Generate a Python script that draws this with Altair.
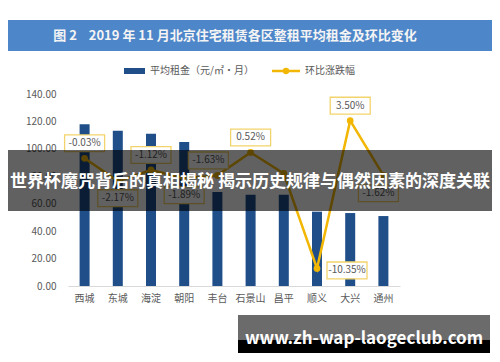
import altair as alt
import pandas as pd

districts = ["西城", "东城", "海淀", "朝阳", "丰台", "石景山", "昌平", "顺义", "大兴", "通州"]
rent = [118.0, 113.2, 111.0, 105.0, 68.5, 66.5, 66.5, 54.2, 53.2, 51.0]
change = [-0.03, -2.17, -1.12, -1.89, -1.63, 0.52, -1.45, -10.35, 3.50, -1.62]
label_pos = ["above", "below", "above", "below", "above-left", "above", "none", "right", "above", "below-left"]

title_text = "图 2\u00a0\u00a0\u00a0\u00a02019 年 11 月北京住宅租赁各区整租平均租金及环比变化"
legend_bar = "平均租金（元/㎡·月）"
legend_line = "环比涨跌幅"
banner_text = "世界杯魔咒背后的真相揭秘 揭示历史规律与偶然因素的深度关联"
watermark_text = "www.zh-wap-laogeclub.com"

OFFSETS = {
    "above": (0, -15),
    "below": (0, 17),
    "above-left": (-9, -15),
    "right": (30, 2),
    "below-left": (-5, 18),
}

df = pd.DataFrame({"district": districts, "rent": rent, "change": change, "pos": label_pos})
df["label"] = [f"{v:.2f}%" for v in change]

FONT = "Noto Sans CJK SC"
BAR = "#1f4e89"
GOLD = "#f2b705"
GRAY = "#595959"
BOXSTROKE = "#f3d36b"

x = alt.X(
    "district:N",
    sort=districts,
    scale=alt.Scale(paddingInner=0, paddingOuter=0),
    axis=alt.Axis(title=None, labelAngle=0, ticks=False, domainColor="#d9d9d9",
                  labelPadding=7, labelFontSize=10, labelColor=GRAY, labelFont=FONT),
)

y_left = alt.Y(
    "rent:Q",
    scale=alt.Scale(domain=[0, 140]),
    axis=alt.Axis(values=list(range(0, 141, 20)), format=".2f", title=None, grid=False,
                  domain=False, ticks=False, labelPadding=12, labelFontSize=10,
                  labelColor=GRAY, labelFont=FONT),
)

rscale = alt.Scale(domain=[-12, 6])
y_right = alt.Y(
    "change:Q",
    scale=rscale,
    axis=alt.Axis(orient="right", values=list(range(-12, 7, 2)),
                  labelExpr="format(datum.value,'.2f')+'%'", title=None, grid=False,
                  domain=False, ticks=False, labelPadding=10, labelFontSize=10,
                  labelColor=GRAY, labelFont=FONT),
)
y_right_noaxis = alt.Y("change:Q", scale=rscale, axis=None)

bars = alt.Chart(df).mark_bar(size=10, color=BAR).encode(x=x, y=y_left)

line = alt.Chart(df).mark_line(
    color=GOLD, strokeWidth=2.5,
    point=alt.OverlayMarkDef(color=GOLD, filled=True, size=45),
).encode(x=x, y=y_right)

label_layers = []
for pos, (dx, dy) in OFFSETS.items():
    sub = df[df["pos"] == pos]
    if len(sub) == 0:
        continue
    box = alt.Chart(sub).mark_point(
        shape="M-1,-0.42L1,-0.42L1,0.42L-1,0.42Z", size=1600, fill="white", fillOpacity=1,
        stroke=BOXSTROKE, strokeWidth=1.3, opacity=1, xOffset=dx, yOffset=dy,
    ).encode(x=x, y=y_right_noaxis)
    txt = alt.Chart(sub).mark_text(
        font=FONT, fontSize=10, color=GRAY, xOffset=dx, yOffset=dy, baseline="middle",
    ).encode(x=x, y=y_right_noaxis, text="label:N")
    label_layers += [box, txt]

right_group = alt.layer(line, *label_layers)

one = pd.DataFrame({"a": [0]})

def rect(x1, x2, y1, y2, color, opacity=1.0):
    return alt.Chart(one).mark_rect(color=color, opacity=opacity).encode(
        x=alt.value(x1), x2=alt.value(x2), y=alt.value(y1), y2=alt.value(y2))

def text(t, xx, yy, size, color, bold=False, align="center"):
    return alt.Chart(one).mark_text(
        text=t, font=FONT, fontSize=size, color=color, align=align, baseline="middle",
        fontWeight="bold" if bold else "normal",
    ).encode(x=alt.value(xx), y=alt.value(yy))

title_bar = rect(-60, 425, -74, -43, "#4d86c9")
title_lbl = text(title_text, 167, -58, 13, "#f4f4f4", bold=True)

leg_sw1 = rect(56, 77, -26, -20, BAR)
leg_t1 = text(legend_bar, 82, -23, 10, GRAY, align="left")
leg_line = alt.Chart(one).mark_rule(color=GOLD, strokeWidth=2.5).encode(
    x=alt.value(204), x2=alt.value(232), y=alt.value(-23))
leg_pt = alt.Chart(one).mark_point(color=GOLD, filled=True, size=40, opacity=1).encode(
    x=alt.value(218), y=alt.value(-23))
leg_t2 = text(legend_line, 237, -23, 10, GRAY, align="left")

banner = rect(-60, 424, 56, 117, "#000000", 0.62)
banner_lbl = text(banner_text, 182, 88, 17, "white", bold=True)

wm_gray = rect(170, 422, 221, 246, "#6b6b6b")
wm_black = rect(170, 422, 246, 259, "#000000")
wm_lbl = text(watermark_text, 296, 245, 17, "white", bold=True)

chart = alt.layer(
    bars, right_group,
    title_bar, title_lbl, leg_sw1, leg_t1, leg_line, leg_pt, leg_t2,
    banner, banner_lbl, wm_gray, wm_black, wm_lbl,
).resolve_scale(y="independent").properties(
    width=332, height=192,
    autosize=alt.AutoSizeParams(type="none"),
    padding={"left": 60, "top": 86, "right": 92, "bottom": 68},
    background="white",
).configure_view(stroke=None)

chart.save("out.html", embed_options={"renderer": "svg", "actions": False})
